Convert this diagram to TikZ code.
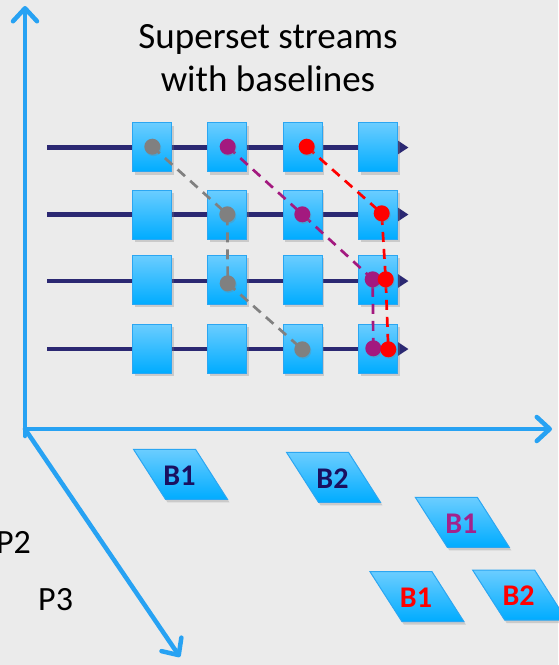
\documentclass[tikz,border=0pt]{standalone}
\usepackage{fontspec}
\setmainfont{Carlito}
\usetikzlibrary{arrows.meta,shadows}

\definecolor{bg}{HTML}{EBEBEB}
\definecolor{axisblue}{HTML}{27A2F3}
\definecolor{streamnavy}{HTML}{2B2872}
\definecolor{celltop}{HTML}{6BCDFF}
\definecolor{cellbot}{HTML}{00ACFF}
\definecolor{celledge}{HTML}{2BA6F2}
\definecolor{dotgray}{HTML}{808080}
\definecolor{dotpurple}{HTML}{A3197F}
\definecolor{dotred}{HTML}{FF0000}
\definecolor{labnavy}{HTML}{1A1060}
\definecolor{labpurple}{HTML}{A3228C}

\tikzset{
  axis/.style={axisblue, line width=4.5pt, line cap=round,
    -{Straight Barb[length=13pt,width=24pt,line cap=round,line join=round]}},
  stream/.style={streamnavy, line width=4.6pt, -{Triangle[length=10.5pt,width=13pt]}},
  cell/.style={rectangle, minimum width=39pt, minimum height=49pt, inner sep=0pt,
    draw=celledge, line width=1pt, top color=celltop, bottom color=cellbot,
    drop shadow={opacity=.3, shadow xshift=2pt, shadow yshift=-3pt}},
  dot/.style={circle, minimum size=16pt, inner sep=0pt,
    drop shadow={opacity=.3, shadow xshift=1pt, shadow yshift=-1.5pt}},
  link/.style={line width=2.7pt, dash pattern=on 10pt off 7pt},
  pgram/.style={draw=celledge, line width=1pt, top color=celltop, bottom color=cellbot,
    drop shadow={opacity=.3, shadow xshift=2pt, shadow yshift=-3pt}},
  blabel/.style={font=\fontsize{30}{36}\bfseries\selectfont, inner sep=0pt},
  plabel/.style={font=\fontsize{34}{40}\selectfont, inner sep=0pt},
  title/.style={font=\fontsize{37}{44}\selectfont, inner sep=0pt, anchor=base},
}

% slanted baseline tile: name, top-left x, top-left y, label colour, label
\newcommand\baselinetile[5]{%
  \path[pgram] (#2,#3) -- ++(62,0) -- ++(32,50) -- ++(-62,0) -- cycle;
  \node[blabel, text=#4] (#1) at (#2+46,#3+26) {#5};
}

\begin{document}
\begin{tikzpicture}[x=1pt, y=-1pt]
  \useasboundingbox (0,0) rectangle (558,665);
  \fill[bg] (0,0) rectangle (558,665);

  % axes
  \coordinate (O) at (25,429);
  \coordinate (Ob) at (25,436);
  \coordinate (ytip) at (25,6);
  \coordinate (xtip) at (552,429);
  \coordinate (ztip) at (180,657);
  \draw[axis] (Ob) -- (ytip);
  \draw[axis] (O) -- (xtip);
  \draw[axis] (O) -- (ztip);

  % title
  \node[title] (t1) at (268,48) {Superset streams};
  \node[title] (t2) at (268,91.5) {with baselines};

  % streams
  \foreach \r/\y in {1/147.5, 2/214.5, 3/281, 4/349}{
    \coordinate (s\r) at (47,\y);
    \coordinate (e\r) at (408.5,\y);
    \draw[stream] (s\r) -- (e\r);
  }

  % cells
  \foreach \r/\y in {1/147.2, 2/214.5, 3/279.8, 4/348.5}{
    \foreach \c/\x in {1/152, 2/227.2, 3/302.7, 4/378.2}{
      \node[cell] (c\r\c) at (\x,\y) {};
    }
  }

  % dot positions
  \coordinate (g1) at (152.3,146.7);
  \coordinate (g2) at (227.3,214.3);
  \coordinate (g3) at (227.7,283.3);
  \coordinate (g4) at (302.3,349.3);
  \coordinate (p1) at (227.7,146.7);
  \coordinate (p2) at (302.3,214.3);
  \coordinate (p3) at (372.7,279.3);
  \coordinate (p4) at (373.3,348.3);
  \coordinate (r1) at (306.7,146.7);
  \coordinate (r2) at (381.7,213.3);
  \coordinate (r3) at (385.7,279.3);
  \coordinate (r4) at (388.3,349.3);

  % baseline links
  \draw[link, dotgray] (g1) -- (g2) -- (g3) -- (g4);
  \draw[link, dotpurple] (p1) -- (p2) -- (p3) -- (p4);
  \draw[link, dotred] (r1) -- (r2) -- (r3) -- (r4);

  % dots
  \foreach \i in {1,...,4}{
    \node[dot, fill=dotgray] (gd\i) at (g\i) {};
    \node[dot, fill=dotpurple] (pd\i) at (p\i) {};
  }
  \foreach \i in {1,...,4}{
    \node[dot, fill=dotred] (rd\i) at (r\i) {};
  }

  % baseline tiles
  \baselinetile{bA}{133.5}{449.3}{labnavy}{B1}
  \baselinetile{bB}{286.5}{452.3}{labnavy}{B2}
  \baselinetile{bC}{415.3}{497.3}{labpurple}{B1}
  \baselinetile{bD}{370}{571.7}{dotred}{B1}
  \baselinetile{bE}{472.6}{570}{dotred}{B2}

  % stream labels
  \node[plabel, anchor=base east] (P2) at (31,553) {P2};
  \node[plabel, anchor=base west] (P3) at (38,610) {P3};
\end{tikzpicture}
\end{document}
